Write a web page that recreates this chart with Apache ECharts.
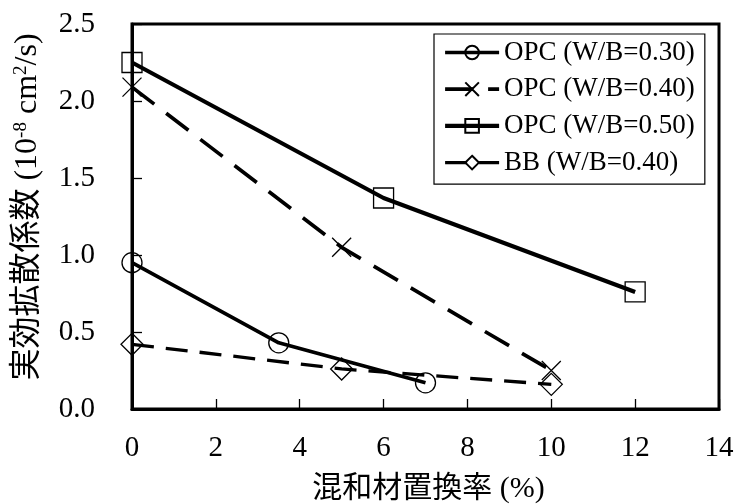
<!DOCTYPE html>
<html>
<head>
<meta charset="utf-8">
<script src="https://cdn.jsdelivr.net/npm/echarts@6/dist/echarts.min.js"></script>
<style>
html,body{margin:0;padding:0;background:#fff;}
#c{width:739px;height:504px;}
</style>
</head>
<body>
<div id="c"></div>
<script>
// ---- data ----
const seriesNames = ['OPC (W/B=0.30)', 'OPC (W/B=0.40)', 'OPC (W/B=0.50)', 'BB (W/B=0.40)'];
const x_opc30 = [0, 3.5, 7];
const y_opc30 = [0.95, 0.43, 0.17];
const x_opc40 = [0, 5, 10];
const y_opc40 = [2.09, 1.05, 0.25];
const x_opc50 = [0, 6, 12];
const y_opc50 = [2.25, 1.37, 0.76];
const x_bb40 = [0, 5, 10];
const y_bb40 = [0.42, 0.26, 0.16];
const xTicks = [0, 2, 4, 6, 8, 10, 12, 14];
const yTicks = [0.0, 0.5, 1.0, 1.5, 2.0, 2.5];

const FONT = "Liberation Serif, Noto Sans CJK JP, serif";
const pairs = (xs, ys) => xs.map((x, i) => [x, ys[i]]);

const chart = echarts.init(document.getElementById('c'), null, {renderer: 'canvas'});

const lineWidths = [3.7, 3.7, 4.2, 3.3];

function mkSeries(idx, xs, ys, symbol, symbolSize, dash) {
  return {
    name: seriesNames[idx],
    type: 'line',
    data: pairs(xs, ys),
    symbol: symbol,
    symbolSize: symbolSize,
    showSymbol: true,
    lineStyle: {color: '#000', width: lineWidths[idx], type: dash || 'solid', cap: 'butt'},
    itemStyle: {color: 'rgba(0,0,0,0)', borderColor: '#000', borderWidth: 1.3},
    emphasis: {disabled: true},
    silent: true
  };
}

const option = {
  animation: false,
  backgroundColor: '#fff',
  textStyle: {fontFamily: FONT, color: '#000'},
  grid: {
    left: 132, top: 24, right: 20, bottom: 95,
    outerBoundsMode: 'none',
    containLabel: false,
    show: true, borderColor: '#000', borderWidth: 3, backgroundColor: 'transparent'
  },
  legend: {
    orient: 'vertical',
    left: 434, top: 34,
    data: seriesNames.map((n, i) => ({name: n, lineStyle: {width: lineWidths[i]}})),
    backgroundColor: '#fff',
    borderColor: '#000', borderWidth: 1.2,
    padding: [5, 10, 8, 9],
    itemGap: 9.7,
    itemWidth: 54, itemHeight: 17,
    textStyle: {fontFamily: FONT, fontSize: 27, color: '#000', lineHeight: 27},
    selectedMode: false
  },
  xAxis: {
    type: 'value', min: xTicks[0], max: xTicks[xTicks.length - 1], interval: 2,
    name: '混和材置換率 (%)', nameLocation: 'middle', nameGap: 65,
    nameTextStyle: {fontFamily: FONT, fontSize: 30, color: '#000', padding: [0, 0, 0, 6]},
    axisLine: {show: true, lineStyle: {color: '#000', width: 3}},
    axisTick: {show: true, inside: true, length: 10, lineStyle: {color: '#000', width: 1.3}},
    axisLabel: {fontFamily: FONT, fontSize: 29, color: '#000', margin: 25},
    splitLine: {show: false}
  },
  yAxis: {
    type: 'value', min: yTicks[0], max: yTicks[yTicks.length - 1], interval: 0.5,
    name: '{a|実効拡散係数 (10}{s|-8}{a| cm}{s|2}{a|/s)}',
    nameLocation: 'middle', nameGap: 88,
    nameTextStyle: {
      fontFamily: FONT, fontSize: 32, color: '#000',
      padding: [0, 0, 0, 19],
      rich: {
        a: {fontFamily: FONT, fontSize: 32, color: '#000', lineHeight: 36, verticalAlign: 'bottom'},
        s: {fontFamily: FONT, fontSize: 19, color: '#000', lineHeight: 36, verticalAlign: 'bottom', padding: [0, 0, 13, 0]}
      }
    },
    axisLine: {show: true, lineStyle: {color: '#000', width: 3}},
    axisTick: {show: true, inside: true, length: 10, lineStyle: {color: '#000', width: 1.3}},
    axisLabel: {fontFamily: FONT, fontSize: 29, color: '#000', margin: 37,
      formatter: v => v.toFixed(1)},
    splitLine: {show: false}
  },
  series: [
    mkSeries(0, x_opc30, y_opc30, 'circle', 20),
    mkSeries(1, x_opc40, y_opc40, 'path://M0,0L10,10M10,0L0,10', 19, [28, 15]),
    mkSeries(2, x_opc50, y_opc50, 'rect', 20),
    mkSeries(3, x_bb40, y_bb40, 'diamond', 22, [22, 12])
  ]
};
chart.setOption(option);
</script>
</body>
</html>
